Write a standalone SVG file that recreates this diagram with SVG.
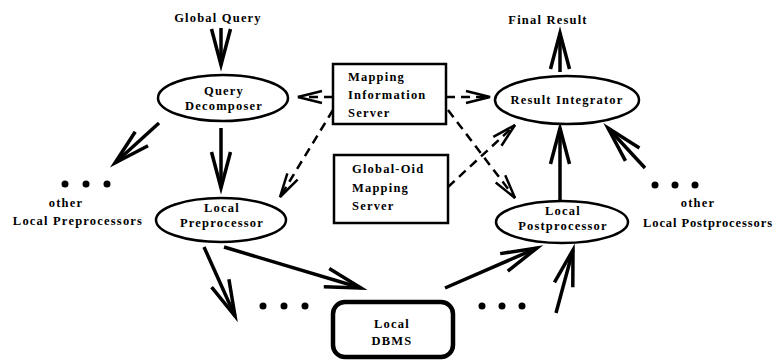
<svg xmlns="http://www.w3.org/2000/svg" width="779" height="360" viewBox="0 0 779 360">
<style>
text{font-family:"Liberation Serif","Times New Roman",serif;font-weight:bold;font-size:12.5px;letter-spacing:1.2px;fill:#000}
.c{text-anchor:middle}
.node{fill:#fff;stroke:#000;stroke-width:2.5}
.solid{stroke:#000;stroke-width:3.5;fill:none;marker-end:url(#ah)}
.dash{stroke:#000;stroke-width:2.5;fill:none;stroke-dasharray:9 6;marker-end:url(#dh)}
.dot{fill:#000}
</style>
<defs>
<marker id="ah" markerUnits="userSpaceOnUse" markerWidth="50" markerHeight="30" viewBox="-45 -15 50 30" refX="0" refY="0" orient="auto" overflow="visible">
<path d="M-36,-9.5 L0,0 L-36,9.5" fill="none" stroke="#000" stroke-width="3.5" stroke-dasharray="none"/>
</marker>
<marker id="dh" markerUnits="userSpaceOnUse" markerWidth="40" markerHeight="20" viewBox="-30 -10 40 20" refX="0" refY="0" orient="auto" overflow="visible">
<path d="M-24,-6 L0,0 L-24,6" fill="none" stroke="#000" stroke-width="2.5" stroke-dasharray="none"/>
</marker>
</defs>
<rect width="779" height="360" fill="#fff"/>
<g id="connectors">
<line class="solid" x1="221" y1="28" x2="221" y2="65"/>
<line class="solid" x1="221" y1="128" x2="221" y2="188"/>
<line class="solid" x1="159" y1="123" x2="115" y2="163"/>
<line class="solid" x1="560" y1="72" x2="560" y2="33"/>
<line class="solid" x1="204" y1="247" x2="235" y2="316"/>
<line class="solid" x1="224" y1="247" x2="361" y2="288"/>
<line class="solid" x1="445" y1="288" x2="537" y2="248"/>
<line class="solid" x1="556" y1="313" x2="573" y2="250"/>
<line class="solid" x1="560" y1="201" x2="560" y2="128"/>
<line class="solid" x1="645" y1="168" x2="608" y2="128"/>
<line class="dash" x1="333" y1="97" x2="298" y2="97"/>
<line class="dash" x1="446" y1="97" x2="490" y2="97"/>
<line class="dash" x1="333" y1="110" x2="280" y2="197"/>
<line class="dash" x1="448" y1="110" x2="515" y2="198"/>
<line class="dash" x1="448" y1="187" x2="515" y2="125"/>
</g>
<g id="global-query"><text class="c" x="218" y="22">Global Query</text></g>
<g id="final-result"><text class="c" x="548" y="24">Final Result</text></g>
<g id="query-decomposer">
<ellipse class="node" cx="223" cy="98" rx="65" ry="23"/>
<text class="c" x="224" y="95">Query</text>
<text class="c" x="224" y="110">Decomposer</text>
</g>
<g id="mapping-information-server">
<rect class="node" x="333" y="64" width="113" height="60"/>
<text x="348" y="81">Mapping</text>
<text x="348" y="99">Information</text>
<text x="348" y="117">Server</text>
</g>
<g id="result-integrator">
<ellipse class="node" cx="567" cy="100" rx="72" ry="24"/>
<text class="c" x="567" y="104">Result Integrator</text>
</g>
<g id="global-oid-mapping-server">
<rect class="node" x="334" y="155" width="114" height="68"/>
<text x="352" y="173">Global-Oid</text>
<text x="352" y="192">Mapping</text>
<text x="352" y="210">Server</text>
</g>
<g id="local-preprocessor">
<ellipse class="node" cx="221" cy="220" rx="65" ry="22"/>
<text class="c" x="222" y="212">Local</text>
<text class="c" x="222" y="227">Preprocessor</text>
</g>
<g id="local-postprocessor">
<ellipse class="node" cx="562" cy="222" rx="66" ry="21"/>
<text class="c" x="563" y="215">Local</text>
<text class="c" x="563" y="230">Postprocessor</text>
</g>
<g id="local-dbms">
<rect x="333" y="302" width="120" height="55" rx="12" ry="12" fill="#fff" stroke="#000" stroke-width="4.5"/>
<text class="c" x="392" y="328">Local</text>
<text class="c" x="392" y="345">DBMS</text>
</g>
<g id="other-preprocessors">
<circle class="dot" cx="65" cy="184" r="3.5"/>
<circle class="dot" cx="86" cy="184" r="3.5"/>
<circle class="dot" cx="107" cy="184" r="3.5"/>
<text class="c" x="66" y="207">other</text>
<text class="c" x="78" y="225">Local Preprocessors</text>
</g>
<g id="other-postprocessors">
<circle class="dot" cx="655" cy="185" r="3.5"/>
<circle class="dot" cx="675" cy="185" r="3.5"/>
<circle class="dot" cx="695" cy="185" r="3.5"/>
<text class="c" x="698" y="207">other</text>
<text x="643" y="227" style="letter-spacing:0.9px">Local Postprocessors</text>
</g>
<g id="dots-bottom">
<circle class="dot" cx="263" cy="306" r="3.5"/>
<circle class="dot" cx="284" cy="306" r="3.5"/>
<circle class="dot" cx="305" cy="306" r="3.5"/>
<circle class="dot" cx="482" cy="306" r="3.5"/>
<circle class="dot" cx="502" cy="306" r="3.5"/>
<circle class="dot" cx="522" cy="306" r="3.5"/>
</g>
</svg>
